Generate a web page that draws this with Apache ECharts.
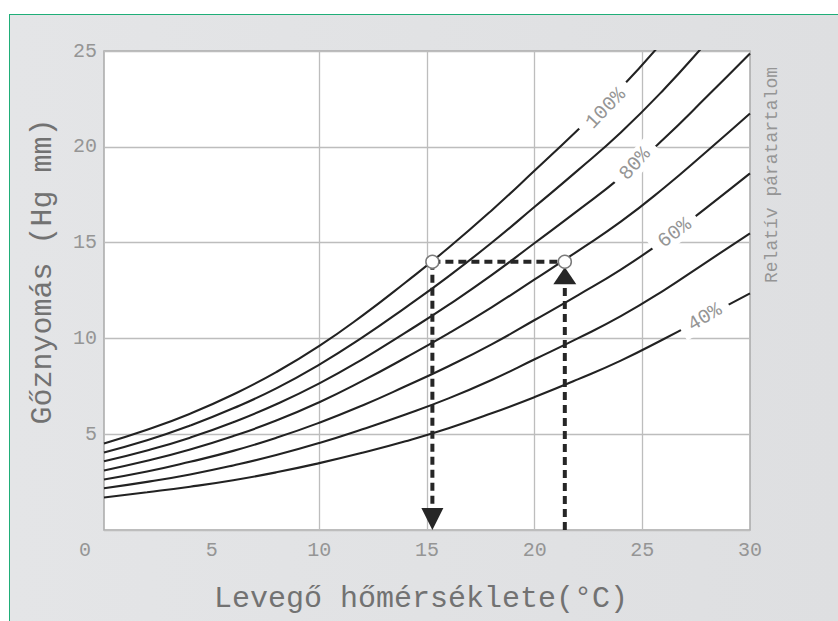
<!DOCTYPE html>
<html><head><meta charset="utf-8">
<script src="https://cdn.jsdelivr.net/npm/echarts@6/dist/echarts.min.js"></script>
<style>
html,body{margin:0;padding:0;background:#fff;}
#wrap{position:relative;width:838px;height:621px;overflow:hidden;background:#fff;}
#panel{position:absolute;left:9px;top:14px;right:0;bottom:0;background:linear-gradient(to right,#e4e5e7,#dedfe1);border-top:1.5px solid #1fae78;border-left:1.5px solid #1fae78;}
#chart{position:absolute;left:0;top:0;width:838px;height:621px;}
</style></head><body>
<div id="wrap"><div id="panel"></div><div id="chart"></div></div>
<script>
// Temperature (°C) sample points
const temps = [0, 2, 4, 6, 8, 10, 12, 14, 16, 18, 20, 22, 24, 26, 28, 30];
// Vapour pressure (Hg mm) for each relative humidity curve
const rh100 = [4.52, 5.23, 6.07, 7.07, 8.24, 9.61, 11.19, 12.92, 14.73, 16.68, 18.76, 20.88, 23.07, 25.57, 28.32, 31.14];
const rh90  = [4.05, 4.68, 5.45, 6.35, 7.39, 8.63, 10.05, 11.61, 13.24, 14.99, 16.87, 18.77, 20.75, 22.99, 25.47, 28.01];
const rh80  = [3.59, 4.15, 4.82, 5.62, 6.56, 7.65, 8.91, 10.30, 11.75, 13.30, 14.98, 16.67, 18.42, 20.42, 22.62, 24.87];
const rh70  = [3.11, 3.61, 4.20, 4.90, 5.71, 6.67, 7.78, 8.99, 10.26, 11.62, 13.08, 14.56, 16.09, 17.85, 19.77, 21.74];
const rh60  = [2.64, 3.05, 3.56, 4.13, 4.81, 5.60, 6.50, 7.50, 8.55, 9.69, 10.96, 12.25, 13.59, 15.12, 16.84, 18.61];
const rh50  = [2.18, 2.51, 2.90, 3.37, 3.91, 4.54, 5.26, 6.03, 6.87, 7.83, 8.91, 10.00, 11.16, 12.51, 14.00, 15.48];
const rh40  = [1.70, 1.97, 2.26, 2.60, 3.01, 3.49, 4.03, 4.63, 5.31, 6.09, 6.94, 7.86, 8.84, 9.97, 11.16, 12.35];
const curveNames = ['100%', '90%', '80%', '70%', '60%', '50%', '40%'];
// Curve labels (text and anchor in data units)
const labelCurve = ['100%', '80%', '60%', '40%'];
const labelX = [23.3, 24.66, 26.5, 27.9];
const labelY = [22.0, 19.1, 15.5, 11.1];
// Dew-point example: air temperature, dew point, vapour pressure
const airTemp = 21.4;
const dewTemp = 15.25;
const vapour = 14.0;
const arrowBaseDown = 1.2;
const arrowBaseUp = 12.8;
// Axis ticks
const xTicks = [0, 5, 10, 15, 20, 25, 30];
const yTicks = [0, 5, 10, 15, 20, 25];
const xGridLines = [10, 15, 20, 25];

const FONT = 'Liberation Mono';
const curves = [rh100, rh90, rh80, rh70, rh60, rh50, rh40];
const labelRot = {'100%': 46, '80%': 48, '60%': 37, '40%': 31};

const series = [];
series.push({
  type: 'line', name: 'grid', data: [], symbol: 'none', silent: true, z: 1,
  markLine: {
    silent: true, symbol: 'none', z: 1, animation: false,
    label: {show: false},
    lineStyle: {color: '#bdbdbd', width: 1.3, type: 'solid'},
    data: xGridLines.map(v => ({xAxis: v}))
  }
});
curves.forEach((arr, ci) => {
  const name = curveNames[ci];
  const s = {
    type: 'line', name: name, smooth: true, symbol: 'none', silent: true, z: 3,
    lineStyle: {color: '#222222', width: 2.1},
    data: temps.map((t, i) => [t, arr[i]])
  };
  const li = labelCurve.indexOf(name);
  if (li >= 0) {
    s.markPoint = {
      symbol: 'circle', symbolSize: 2, z: 6, silent: true, animation: false,
      itemStyle: {color: 'rgba(0,0,0,0)'},
      label: {
        show: true, position: 'inside', formatter: name, rotate: labelRot[name],
        color: '#959595', fontFamily: FONT, fontSize: 20,
        backgroundColor: '#ffffff', padding: [1, 9]
      },
      data: [{coord: [labelX[li], labelY[li]]}]
    };
  }
  series.push(s);
});
const dashStyle = {color: '#262626', width: 4, type: [8, 5], cap: 'butt'};
series.push({type: 'line', symbol: 'none', silent: true, z: 4, lineStyle: dashStyle,
  data: [[dewTemp, vapour], [dewTemp, arrowBaseDown]]});
series.push({type: 'line', symbol: 'none', silent: true, z: 4, lineStyle: dashStyle,
  data: [[airTemp, 0], [airTemp, arrowBaseUp]]});
series.push({type: 'line', symbol: 'none', silent: true, z: 4, lineStyle: dashStyle,
  data: [[dewTemp, vapour], [airTemp, vapour]]});
series.push({type: 'scatter', silent: true, z: 5, symbol: 'triangle', symbolRotate: 180,
  symbolSize: [22, 22], symbolOffset: [0, -11], itemStyle: {color: '#262626', opacity: 1},
  data: [[dewTemp, 0]]});
series.push({type: 'scatter', silent: true, z: 5, symbol: 'triangle',
  symbolSize: [23, 17], symbolOffset: [0, 14], itemStyle: {color: '#262626', opacity: 1},
  data: [[airTemp, vapour]]});
series.push({type: 'scatter', silent: true, z: 6, symbol: 'circle', symbolSize: 13,
  itemStyle: {color: '#ffffff', borderColor: '#7a7a7a', borderWidth: 1.5, opacity: 1},
  data: [[dewTemp, vapour], [airTemp, vapour]]});

const chart = echarts.init(document.getElementById('chart'), null, {renderer: 'svg'});
chart.setOption({
  animation: false,
  backgroundColor: 'transparent',
  grid: {left: 104, right: 88, top: 51, bottom: 91, show: true,
    backgroundColor: '#ffffff', borderColor: '#a9a9a9', borderWidth: 1.5},
  xAxis: {
    type: 'value', min: xTicks[0], max: xTicks[xTicks.length - 1], interval: xTicks[1] - xTicks[0],
    name: 'Levegő hőmérséklete(°C)', nameLocation: 'middle', nameGap: 54,
    nameTextStyle: {fontFamily: FONT, fontSize: 30, color: '#727272', padding: [0, 12, 0, 0]},
    axisLine: {show: false}, axisTick: {show: false}, splitLine: {show: false},
    axisLabel: {
      margin: 10, fontFamily: FONT, fontSize: 20, color: '#959595',
      formatter: v => v === 0 ? '{z|0}' : String(v),
      rich: {z: {padding: [0, 38, 0, 0], fontFamily: FONT, fontSize: 20, color: '#959595'}}
    }
  },
  yAxis: {
    type: 'value', min: yTicks[0], max: yTicks[yTicks.length - 1], interval: yTicks[1] - yTicks[0],
    name: 'Gőznyomás (Hg mm)', nameLocation: 'middle', nameGap: 46,
    nameTextStyle: {fontFamily: FONT, fontSize: 30, color: '#727272', padding: [0, 0, 0, 38]},
    axisLine: {show: false}, axisTick: {show: false},
    splitLine: {lineStyle: {color: '#bdbdbd', width: 1.3}},
    axisLabel: {margin: 7, fontFamily: FONT, fontSize: 20, color: '#959595',
      formatter: v => v === 0 ? '' : String(v)}
  },
  graphic: [{
    type: 'text', x: 772, y: 175, rotation: Math.PI / 2, silent: true,
    style: {text: 'Relatív páratartalom', fontFamily: FONT, fontSize: 18, fill: '#959595',
      textAlign: 'center', textVerticalAlign: 'middle'}
  }],
  series: series
});
</script>
</body></html>
